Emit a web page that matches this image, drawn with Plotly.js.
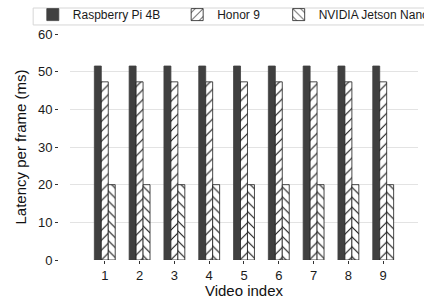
<!DOCTYPE html>
<html>
<head>
<meta charset="utf-8">
<script src="https://cdn.plot.ly/plotly-3.0.1.min.js"></script>
<style>html,body{margin:0;padding:0;background:#fff;}#chart{width:424px;height:299px;}</style>
</head>
<body>
<div id="chart"></div>
<script>
const videoIndex = [1, 2, 3, 4, 5, 6, 7, 8, 9];
const seriesNames = ["Raspberry Pi 4B", "Honor 9", "NVIDIA Jetson Nano"];
const raspberryPi = [51.5, 51.5, 51.5, 51.5, 51.5, 51.5, 51.5, 51.5, 51.5];
const honor9 = [47.3, 47.3, 47.3, 47.3, 47.3, 47.3, 47.3, 47.3, 47.3];
const jetsonNano = [20, 20, 20, 20, 20, 20, 20, 20, 20];
const yTicks = [0, 10, 20, 30, 40, 50, 60];

const font = "Liberation Sans, Arial, sans-serif";
const edge = {color: "#1a1a1a", width: 0.8};

const traces = [
  {type: "bar", name: seriesNames[0], x: videoIndex, y: raspberryPi, legend: "legend",
   marker: {color: "#404040", line: {color: "#404040", width: 0.8}}},
  {type: "bar", name: seriesNames[1], x: videoIndex, y: honor9, legend: "legend2",
   marker: {color: "#ffffff", line: edge,
            pattern: {shape: "/", bgcolor: "#ffffff", fgcolor: "#111111", size: 7, solidity: 0.15}}},
  {type: "bar", name: seriesNames[2], x: videoIndex, y: jetsonNano, legend: "legend3",
   marker: {color: "#ffffff", line: edge,
            pattern: {shape: "\\", bgcolor: "#ffffff", fgcolor: "#111111", size: 7, solidity: 0.15}}}
];

const legendBase = {orientation: "h", xanchor: "left", yanchor: "top", y: 1.15,
  bgcolor: "rgba(0,0,0,0)", borderwidth: 0, font: {family: font, size: 12, color: "#1a1a1a"}};

const layout = {
  width: 424, height: 299,
  margin: {l: 58, r: 6, t: 34, b: 39, autoexpand: false},
  paper_bgcolor: "#ffffff", plot_bgcolor: "#ffffff",
  barmode: "group", bargap: 0.4, bargroupgap: 0,
  font: {family: font, color: "#1a1a1a"},
  showlegend: true,
  legend: Object.assign({}, legendBase, {x: -0.07}),
  legend2: Object.assign({}, legendBase, {x: 0.331}),
  legend3: Object.assign({}, legendBase, {x: 0.613}),
  xaxis: {
    domain: [0.0333, 1], range: [0, 10], tickvals: videoIndex, ticktext: videoIndex.map(String),
    showgrid: false, zeroline: false, showline: false,
    ticks: "outside", ticklen: 3, tickcolor: "#333333", tickwidth: 1,
    tickfont: {family: font, size: 13, color: "#1a1a1a"},
    title: {text: "Video index", font: {family: font, size: 15, color: "#111111"}, standoff: 1}
  },
  yaxis: {
    anchor: "free", position: 0, range: [0, 60], tickvals: yTicks,
    showgrid: true, gridcolor: "#e3e3e3", gridwidth: 1, zeroline: false, showline: false,
    ticks: "outside", ticklen: 3, tickcolor: "#333333", tickwidth: 1,
    tickfont: {family: font, size: 13, color: "#1a1a1a"},
    title: {text: "Latency per frame (ms)", font: {family: font, size: 15, color: "#111111"}, standoff: 6}
  },
  shapes: [
    {type: "rect", xref: "paper", yref: "paper", x0: -0.069, x1: 1.2, y0: 1.04, y1: 1.115,
     line: {color: "#d6d6d6", width: 1}, fillcolor: "rgba(0,0,0,0)", layer: "below"}
  ]
};

Plotly.newPlot("chart", traces, layout, {displayModeBar: false, staticPlot: true});
</script>
</body>
</html>
